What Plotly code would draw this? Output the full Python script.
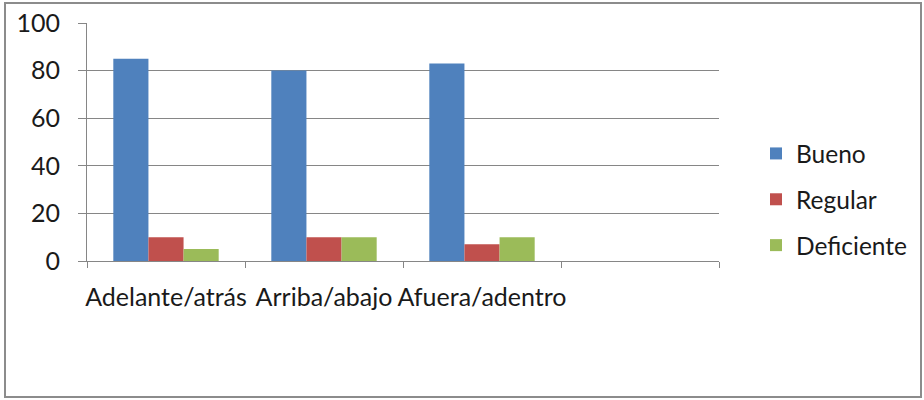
import plotly.graph_objects as go

categories = ["Adelante/atrás", "Arriba/abajo", "Afuera/adentro", " "]
bueno = [85, 80, 83, None]
regular = [10, 10, 7, None]
deficiente = [5, 10, 10, None]
series_names = ["Bueno", "Regular", "Deficiente"]
colors = ["#4F81BD", "#C0504D", "#9BBB59"]
y_ticks = [0, 20, 40, 60, 80, 100]

W, H = 924, 400
L, R, T, B = 87, 205, 23, 139
pw, ph = W - L - R, H - T - B

def px_x(x):
    return (x - L) / pw

def px_y(y):
    return (H - B - y) / ph

FONT = "Lato, Open Sans, sans-serif"
TXT = "#1a1a1a"
AX = "#868686"

fig = go.Figure()
for name, vals, col in zip(series_names, [bueno, regular, deficiente], colors):
    fig.add_trace(go.Bar(
        x=categories, y=vals, name=name, marker=dict(color=col, line=dict(width=0)),
        legendgroup=name,
    ))

fig.update_layout(
    width=W, height=H,
    margin=dict(l=L, r=R, t=T, b=B, autoexpand=False),
    paper_bgcolor="white", plot_bgcolor="white",
    barmode="group", bargap=0.333, bargroupgap=0,
    font=dict(family=FONT, size=25, color=TXT),
    showlegend=True,
    legend=dict(x=px_x(756), y=px_y(131), xanchor="left", yanchor="top",
                font=dict(family=FONT, size=24.5, color=TXT),
                tracegroupgap=11, itemwidth=30, bgcolor="rgba(0,0,0,0)"),
    xaxis=dict(type="category", categoryorder="array", categoryarray=categories,
               tickson="boundaries", ticks="outside", ticklen=6, tickcolor=AX,
               showline=True, linecolor=AX, linewidth=1, showgrid=False,
               ticklabelstandoff=14, tickangle=0, automargin=False,
               range=[-0.5, 3.5], tickfont=dict(family=FONT, size=25, color=TXT)),
    yaxis=dict(range=[0, 100], tickvals=y_ticks, ticks="outside", ticklen=8,
               tickcolor=AX, showline=True, linecolor=AX, linewidth=1,
               showgrid=True, gridcolor=AX, gridwidth=1, zeroline=False,
               ticklabelstandoff=13, automargin=False,
               tickfont=dict(family=FONT, size=25, color=TXT)),
)

fig.add_shape(type="rect", xref="paper", yref="paper",
              x0=px_x(5), x1=px_x(921), y0=px_y(397), y1=px_y(3),
              line=dict(color="#8c8c8c", width=2), fillcolor="rgba(0,0,0,0)", layer="below")

fig.write_html("out.html", config={"displayModeBar": False},
               post_script="document.body.style.margin='0';")
